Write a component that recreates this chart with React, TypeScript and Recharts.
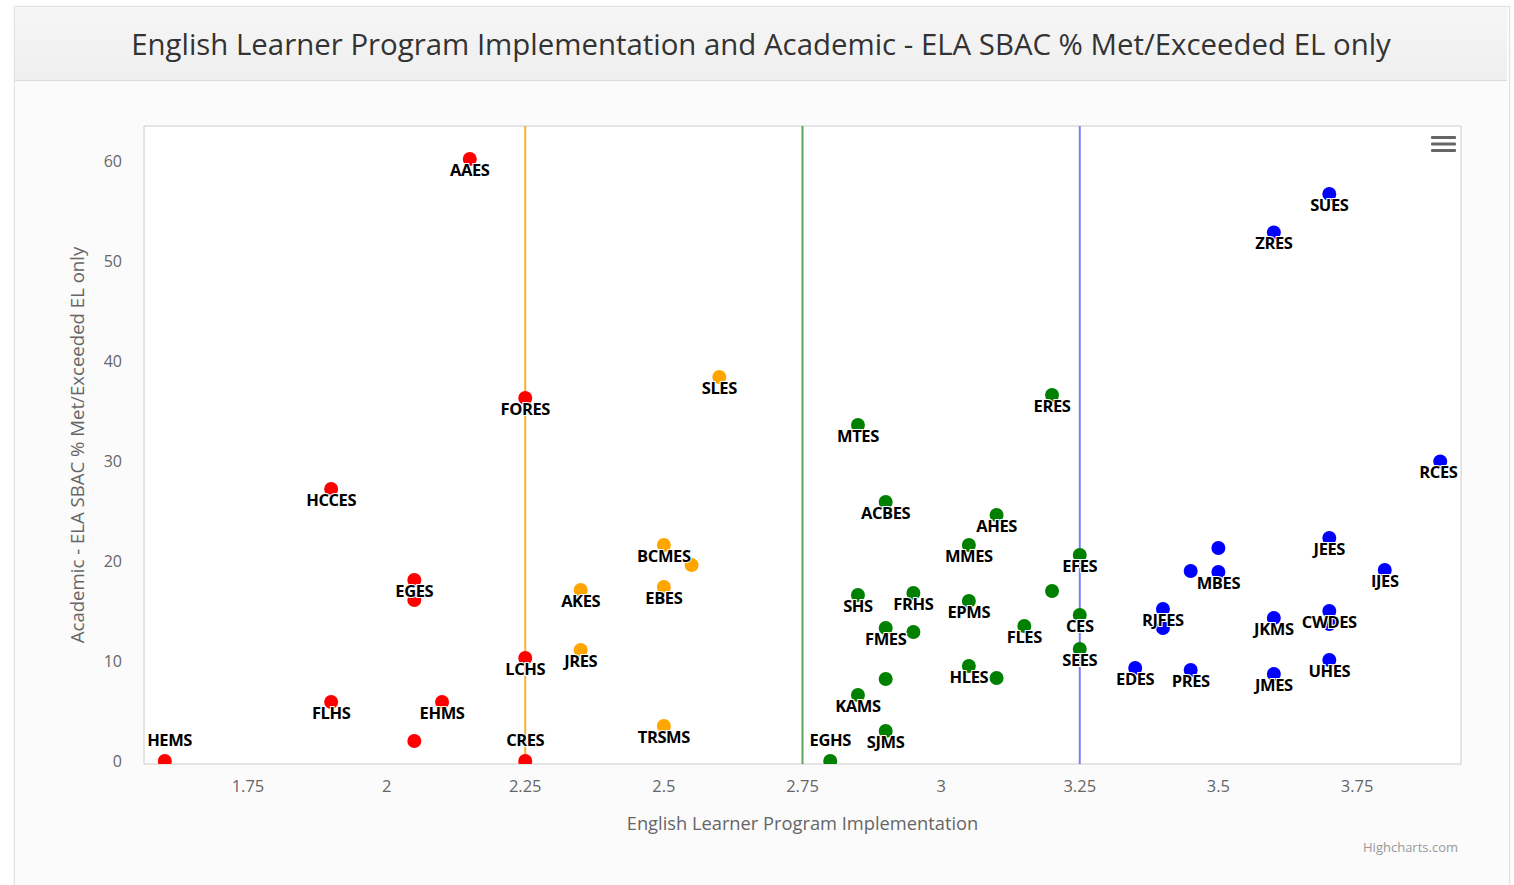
import React from 'react';
import { ScatterChart, Scatter, XAxis, YAxis, ReferenceLine, ReferenceArea } from 'recharts';

// ---------- data ----------
const redNames = ['AAES', 'FORES', 'HCCES', 'EGES', '', 'LCHS', 'FLHS', 'EHMS', '', 'HEMS', 'CRES'];
const redX = [2.15, 2.25, 1.9, 2.05, 2.05, 2.25, 1.9, 2.1, 2.05, 1.6, 2.25];
const redY = [60.2, 36.3, 27.2, 18.1, 16.1, 10.3, 5.9, 5.9, 2.0, 0, 0];

const orangeNames = ['SLES', 'BCMES', '', 'EBES', 'AKES', 'JRES', 'TRSMS'];
const orangeX = [2.6, 2.5, 2.55, 2.5, 2.35, 2.35, 2.5];
const orangeY = [38.4, 21.6, 19.6, 17.4, 17.1, 11.1, 3.5];

const greenNames = ['MTES', 'ERES', 'ACBES', 'AHES', 'MMES', 'EFES', '', 'SHS', 'FRHS', 'EPMS', 'FMES', '', 'FLES', 'CES', 'SEES', 'HLES', '', '', 'KAMS', 'SJMS', 'EGHS'];
const greenX = [2.85, 3.2, 2.9, 3.1, 3.05, 3.25, 3.2, 2.85, 2.95, 3.05, 2.9, 2.95, 3.15, 3.25, 3.25, 3.05, 3.1, 2.9, 2.85, 2.9, 2.8];
const greenY = [33.6, 36.6, 25.9, 24.6, 21.6, 20.6, 17.0, 16.6, 16.8, 16.0, 13.3, 12.9, 13.5, 14.6, 11.2, 9.5, 8.3, 8.2, 6.6, 3.0, 0];

const blueNames = ['SUES', 'ZRES', 'RCES', 'JEES', '', '', 'MBES', 'IJES', 'RJFES', '', 'JKMS', 'CWDES', '', 'EDES', 'PRES', 'JMES', 'UHES'];
const blueX = [3.7, 3.6, 3.9, 3.7, 3.5, 3.45, 3.5, 3.8, 3.4, 3.4, 3.6, 3.7, 3.7, 3.35, 3.45, 3.6, 3.7];
const blueY = [56.7, 52.85, 29.95, 22.3, 21.3, 19.0, 18.9, 19.1, 15.2, 13.3, 14.3, 15.0, 13.7, 9.3, 9.1, 8.7, 10.1];

const xTicks = [1.75, 2, 2.25, 2.5, 2.75, 3, 3.25, 3.5, 3.75];
const yTicks = [0, 10, 20, 30, 40, 50, 60];
const xDomain: [number, number] = [1.5625, 3.9375];
const yDomain: [number, number] = [-0.3, 63.5];
const plotLines = [
  { x: 2.25, color: '#f9b030' },
  { x: 2.75, color: '#5aa55a' },
  { x: 3.25, color: '#7c7cf6' },
];

const TITLE = 'English Learner Program Implementation and Academic - ELA SBAC % Met/Exceeded EL only';
const X_TITLE = 'English Learner Program Implementation';
const Y_TITLE = 'Academic - ELA SBAC % Met/Exceeded EL only';

// ---------- build ----------
type Pt = { x: number; y: number; name: string };
const build = (n: string[], xs: number[], ys: number[]): Pt[] => n.map((name, i) => ({ name, x: xs[i], y: ys[i] }));
const series = [
  { key: 'red', color: '#ff0000', data: build(redNames, redX, redY) },
  { key: 'orange', color: '#ffa500', data: build(orangeNames, orangeX, orangeY) },
  { key: 'green', color: '#008000', data: build(greenNames, greenX, greenY) },
  { key: 'blue', color: '#0000ff', data: build(blueNames, blueX, blueY) },
];
const labelData = series.flatMap((s) => s.data.filter((d) => d.name));

const W = 1514;
const H = 885;
const PLOT = { left: 144, top: 126, right: 1461, bottom: 764 };
const Y_AXIS_W = 60;
const X_AXIS_H = 40;
const FONT = '"Open Sans", "DejaVu Sans", sans-serif';

const dot = (color: string) => (props: any) => {
  const { cx, cy } = props;
  if (cx == null || cy == null) return <g />;
  return <circle cx={cx} cy={cy} r={7} fill={color} />;
};

const LabelShape = (props: any) => {
  const { cx, cy, payload } = props;
  if (cx == null || cy == null || !payload?.name) return <g />;
  const name: string = payload.name;
  const w = name.length * 10.8 + 4;
  let x = cx;
  if (x - w / 2 < PLOT.left + 2) x = PLOT.left + 2 + w / 2;
  if (x + w / 2 > PLOT.right + 1) x = PLOT.right + 1 - w / 2;
  let y = cy + 10;
  if (y + 8 > PLOT.bottom) y = cy - 22;
  return (
    <text
      x={x}
      y={y}
      textAnchor="middle"
      dominantBaseline="central"
      fontFamily={FONT}
      fontWeight={700}
      fontSize={16.5}
      letterSpacing={-0.4}
      fill="#000"
      stroke="#fff"
      strokeWidth={2}
      paintOrder="stroke"
    >
      {name}
    </text>
  );
};

export default function App() {
  return (
    <div style={{ position: 'absolute', left: 0, top: 0, width: W, height: H, background: '#ffffff', overflow: 'hidden', fontFamily: FONT }}>
      {/* card */}
      <div
        style={{
          position: 'absolute',
          left: 14,
          top: 6,
          width: 1494,
          height: 890,
          border: '1px solid #e2e2e2',
          background: '#fbfbfb',
          boxShadow: '0 0 4px rgba(0,0,0,0.06)',
        }}
      />
      <div
        style={{
          position: 'absolute',
          left: 15,
          top: 7,
          width: 1492,
          height: 73,
          background: 'linear-gradient(#f6f6f6, #efefef)',
          borderBottom: '1px solid #dcdcdc',
        }}
      />
      <div
        style={{
          position: 'absolute',
          left: 15,
          top: 23,
          width: 1492,
          textAlign: 'center',
          fontSize: 29.4,
          color: '#333',
          lineHeight: '42px',
          whiteSpace: 'nowrap',
        }}
      >
        {TITLE}
      </div>

      <div style={{ position: 'absolute', left: 0, top: 0 }}>
        <ScatterChart
          width={W}
          height={H}
          margin={{ top: PLOT.top, right: W - PLOT.right, left: PLOT.left - Y_AXIS_W, bottom: H - PLOT.bottom - X_AXIS_H }}
        >
          <XAxis
            type="number"
            dataKey="x"
            domain={xDomain}
            ticks={xTicks}
            allowDataOverflow
            axisLine={false}
            tickLine={false}
            height={X_AXIS_H}
            tickSize={8}
            tickMargin={8}
            tick={{ fill: '#666', fontSize: 16.5, fontFamily: FONT }}
          />
          <YAxis
            type="number"
            dataKey="y"
            domain={yDomain}
            ticks={yTicks}
            allowDataOverflow
            axisLine={false}
            tickLine={false}
            width={Y_AXIS_W}
            tickSize={10}
            tickMargin={12}
            tick={{ fill: '#666', fontSize: 16, fontFamily: FONT }}
          />
          <ReferenceArea
            x1={xDomain[0]}
            x2={xDomain[1]}
            y1={yDomain[0]}
            y2={yDomain[1]}
            fill="#ffffff"
            fillOpacity={1}
            stroke="#cccccc"
            strokeWidth={1}
            ifOverflow="visible"
          />
          {plotLines.map((p) => (
            <ReferenceLine key={p.x} x={p.x} stroke={p.color} strokeWidth={2} ifOverflow="visible" />
          ))}
          {series.map((s) => (
            <Scatter key={s.key} name={s.key} data={s.data} fill={s.color} shape={dot(s.color)} isAnimationActive={false} />
          ))}
          <Scatter name="labels" data={labelData} fill="#000" shape={LabelShape} isAnimationActive={false} />
        </ScatterChart>
      </div>

      {/* overlay: axis titles, menu, credits */}
      <svg width={W} height={H} style={{ position: 'absolute', left: 0, top: 0, pointerEvents: 'none' }}>
        <text x={(PLOT.left + PLOT.right) / 2} y={822} textAnchor="middle" dominantBaseline="central" fontFamily={FONT} fontSize={18.3} fill="#666">
          {X_TITLE}
        </text>
        <text
          x={76}
          y={(PLOT.top + PLOT.bottom) / 2}
          textAnchor="middle"
          dominantBaseline="central"
          fontFamily={FONT}
          fontSize={18.6}
          fill="#666"
          transform={`rotate(-90 76 ${(PLOT.top + PLOT.bottom) / 2})`}
        >
          {Y_TITLE}
        </text>
        <g fill="#666">
          <rect x={1431} y={136} width={25} height={3} rx={1} />
          <rect x={1431} y={142.5} width={25} height={3} rx={1} />
          <rect x={1431} y={149} width={25} height={3} rx={1} />
        </g>
        <text x={1458} y={847} textAnchor="end" dominantBaseline="central" fontFamily={FONT} fontSize={13} fill="#999">
          Highcharts.com
        </text>
      </svg>
    </div>
  );
}
